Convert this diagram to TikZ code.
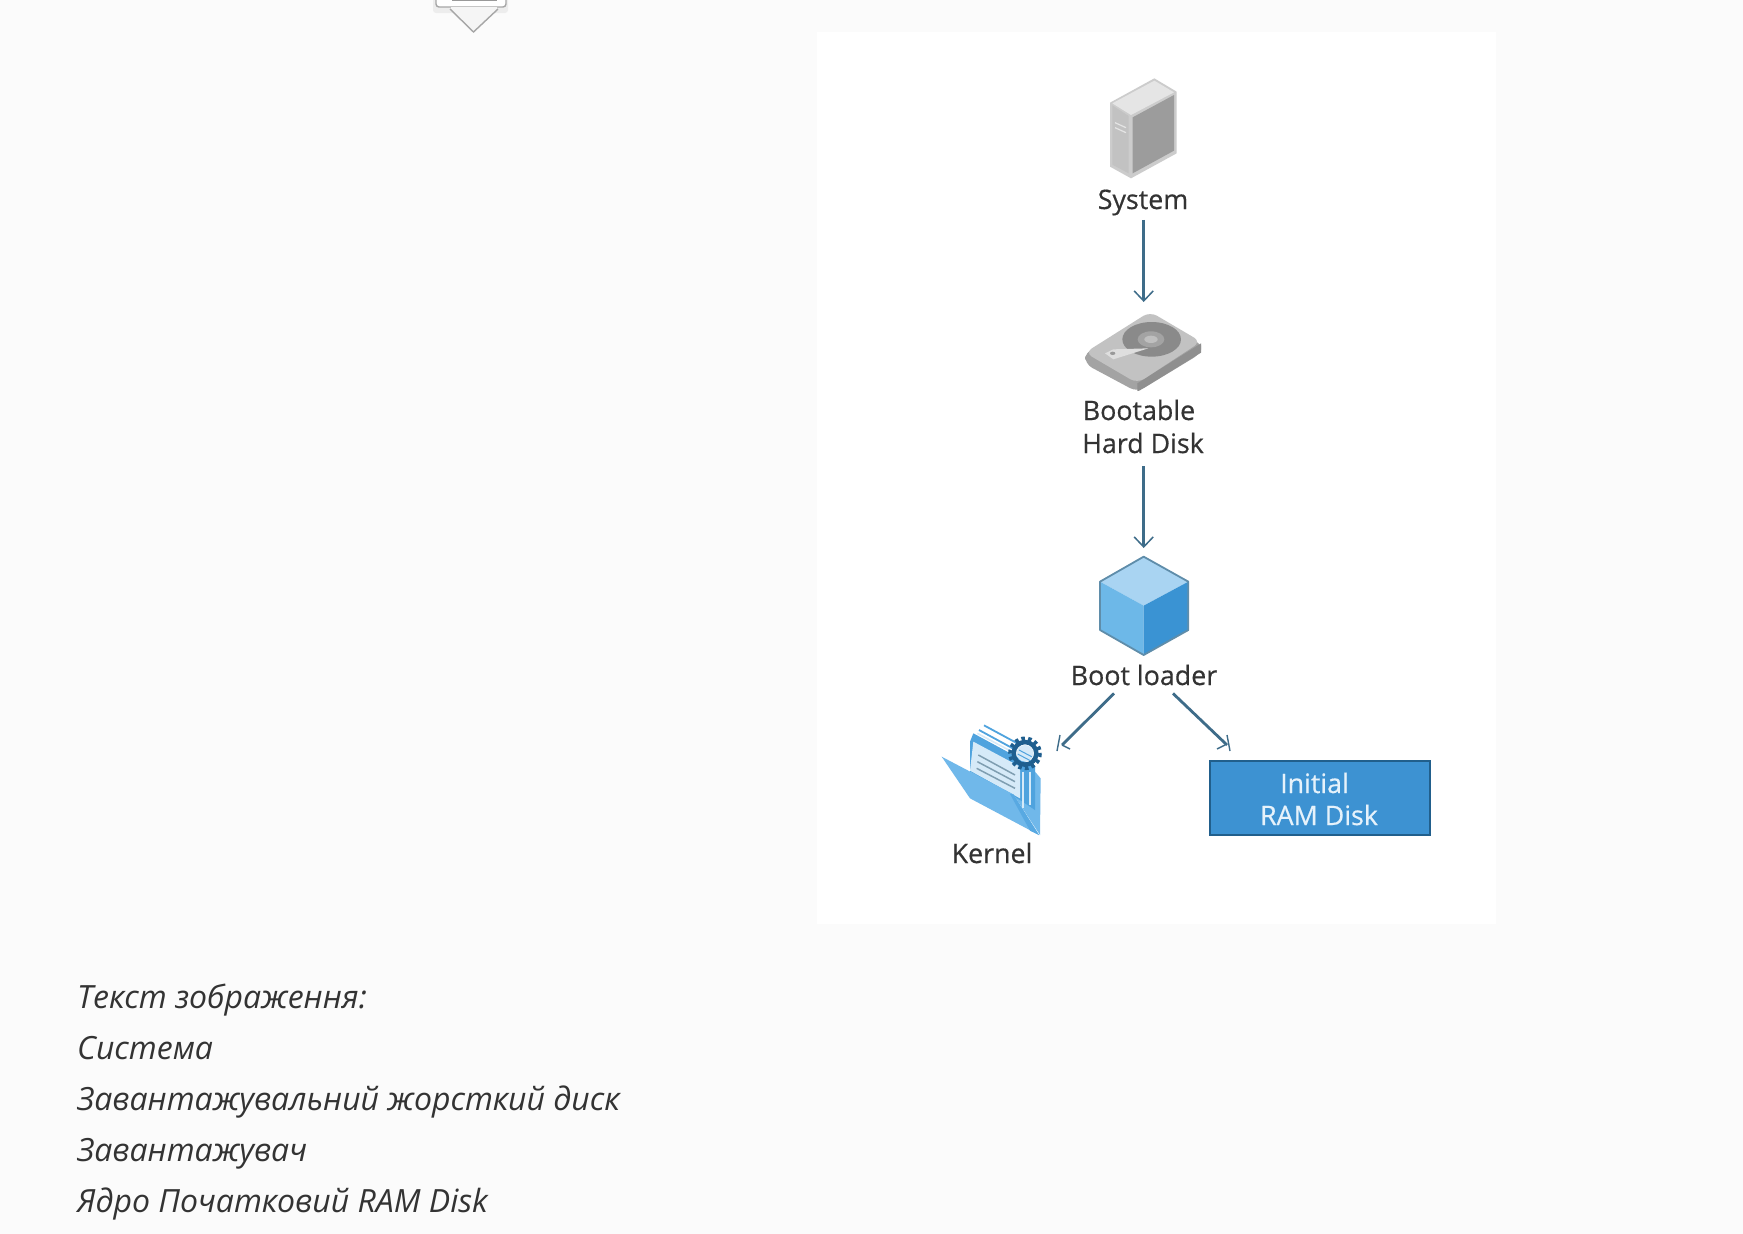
\documentclass[tikz,border=0pt]{standalone}
\usepackage{fontspec}
\setmainfont{Open Sans}
\newfontfamily\lblfont[FakeBold=0.5]{Open Sans}
\usetikzlibrary{arrows.meta,calc}
\definecolor{pagebg}{HTML}{FBFBFB}
\definecolor{inktext}{HTML}{333333}
\definecolor{linkcol}{HTML}{3E6C89}
\definecolor{ramfill}{HTML}{3D92D2}
\definecolor{ramedge}{HTML}{215F8C}
\definecolor{ramtext}{HTML}{E6F2FB}
\definecolor{cubetop}{HTML}{A9D4F2}
\definecolor{cubeleft}{HTML}{6DB8E8}
\definecolor{cuberight}{HTML}{3A93D3}
\definecolor{cubeedge}{HTML}{5F8DAA}
\definecolor{foldlight}{HTML}{70B8EA}
\definecolor{foldmid}{HTML}{58A9E2}
\definecolor{paperblue}{HTML}{D6EAF8}
\definecolor{stripeblue}{HTML}{4FA3DE}
\definecolor{paperline}{HTML}{7F9EB1}
\definecolor{geardark}{HTML}{1F5F8F}
\tikzset{
  iconbox/.style={inner sep=0pt,outer sep=0pt,minimum width=#1,rectangle},
  lbl/.style={font=\lblfont\fontsize{26.8}{33}\selectfont,text=inktext,inner sep=0pt,align=center,anchor=base},
  link/.style={draw=linkcol,line width=2.6pt,-{Straight Barb[length=10pt,width=19pt,line width=1.5pt]}},
  bare/.style={draw=linkcol,line width=2.8pt},
  tick/.style={draw=linkcol,line width=1.4pt},
  note/.style={font=\fontsize{32}{32}\itshape\selectfont,text=inktext,inner sep=0pt,anchor=base west},
  ico/.style={shift={(#1)},scale=1/3}
}
\begin{document}
\begin{tikzpicture}[x=1pt,y=-1pt]
\useasboundingbox (0,0) rectangle (1743,1234);
\fill[pagebg] (0,0) rectangle (1743,1234);
\fill[white] (817,32) rectangle (1496,924);

% cropped callout at the top
\begin{scope}
\clip (0,0) rectangle (1743,40);
\fill[black!7,rounded corners=3pt] (433,-10) rectangle (508,13);
\fill[white,draw=black!35,line width=1.4pt,rounded corners=3pt] (436,-10) rectangle (506,7);
\fill[black!40] (452,0) rectangle (497,1);
\filldraw[fill=black!4,draw=black!35,line width=1.4pt] (450,9) -- (473.5,32) -- (498,9);
\draw[black!4,line width=2pt] (451,8) -- (497,8);
\end{scope}

% server
\begin{scope}[ico={1050,60}]
\fill[black!20] (313,55) -- (380,95) -- (380,280) -- (243,355) -- (180,320) -- (180,128) -- cycle;
\fill[black!10] (313,62) -- (372,97) -- (243,165) -- (187,130) -- cycle;
\fill[black!24] (187,136) -- (236,168) -- (236,340) -- (187,314) -- cycle;
\fill[black!39] (248,172) -- (372,105) -- (372,272) -- (248,340) -- cycle;
\draw[black!10,line width=1.2pt] (195,188) -- (228,203) (195,203) -- (228,218);
\end{scope}
\node[iconbox=1pt,minimum height=1pt] (serverIcon) at (1131,117) {};
\node[lbl] (sysLabel) at (1143,209) {System};

% hard disk
\begin{scope}[ico={1050,300}]
\fill[black!36,rounded corners=8pt] (105,155) -- (300,100) -- (453,125) -- (453,160) -- (262,276) -- (105,192) -- cycle;
\fill[black!44] (262,250) -- (453,130) -- (453,158) -- (268,272) -- (262,273) -- cycle;
\fill[black!24,rounded corners=8pt] (300,35) -- (453,125) -- (262,250) -- (105,158) -- cycle;
\fill[black!46] (305,118) ellipse [x radius=88,y radius=52];
\fill[black!36] (303,118) ellipse [x radius=40,y radius=24];
\fill[black!25] (303,118) ellipse [x radius=20,y radius=11];
\fill[black!13] (165,160) -- (190,148) -- (295,145) -- (190,178) -- cycle;
\fill[black!40] (188,160) ellipse [x radius=8,y radius=5];
\end{scope}
\node[iconbox=10pt,minimum height=90pt] (diskIcon) at (1143.7,347) {};
\node[lbl] (diskLabel) at (1143,453) {\mbox{Bootable\kern8pt}\\Hard Disk};

% cube
\begin{scope}[ico={1050,540},line join=round]
\fill[cubetop] (281,50) -- (415,125) -- (281,197) -- (150,125) -- cycle;
\fill[cubeleft] (150,125) -- (281,197) -- (281,345) -- (150,270) -- cycle;
\fill[cuberight] (281,197) -- (415,125) -- (415,270) -- (281,345) -- cycle;
\draw[cubeedge,line width=1.8pt] (281,50) -- (415,125) -- (415,270) -- (281,345) -- (150,270) -- (150,125) -- cycle;
\end{scope}
\node[iconbox=10pt,minimum height=107pt] (cubeIcon) at (1143.7,601.5) {};
\node[lbl] (bootLabel) at (1144,685) {Boot loader};

% kernel folder
\begin{scope}[ico={920,700},line join=round]
\fill[foldlight] (280,283) -- (345,215) -- (362,235) -- (360,405) -- cycle;
\fill[stripeblue] (150,125) -- (160,100) -- (345,200) -- (345,330) -- (300,300) -- (150,215) -- cycle;
\fill[paperblue] (160,125) -- (300,200) -- (300,295) -- (150,212) -- cycle;
\draw[stripeblue,line width=1.8pt] (192,76) -- (292,130) (177,90) -- (280,146);
\draw[paperblue,line width=1.6pt] (172,100) -- (285,160);
\draw[paperblue,line width=1.8pt] (310,215) -- (310,325) (330,215) -- (330,315);
\draw[paperline,line width=1.5pt] (175,165) -- (285,225) (172,185) -- (285,245) (170,205) -- (285,265);
\fill[foldlight] (65,170) -- (280,283) -- (357,405) -- (150,295) -- cycle;
\fill[foldmid] (280,283) -- (357,405) -- (330,392) -- (270,282) -- cycle;
\draw[geardark,line width=5pt,dash pattern=on 3.4pt off 3pt] (315,160) circle [radius=43];
\draw[geardark,line width=4.5pt] (315,160) circle [radius=34];
\fill[paperblue] (315,160) circle [radius=25];
\draw[stripeblue,line width=1pt] (297,150) -- (335,170) (293,162) -- (331,182);
\end{scope}
\node[iconbox=10pt,minimum height=10pt] (kernelIcon) at (1022,790) {};
\node[lbl] (kernelLabel) at (992,863) {Kernel};

% RAM disk
\node[draw=ramedge,fill=ramfill,line width=2pt,minimum width=220pt,minimum height=74pt,inner sep=0pt] (ramBox) at (1320,798) {};
\node[lbl,text=ramtext,font=\lblfont\fontsize{26.8}{32}\selectfont] (ramText) at (1319,825) {\mbox{Initial\kern9pt}\\RAM Disk};

% connectors
\draw[link] (sysLabel.south)+(0.7,4.3) -- (diskIcon.north);
\draw[link] (diskLabel.south)+(0.7,13) -- (cubeIcon.north);

\coordinate (bootOutL) at ($(bootLabel.south)+(-30,8)$);
\coordinate (bootOutR) at ($(bootLabel.south)+(29,8)$);
\coordinate (kernelIn) at ($(kernelIcon.center)+(40,-45)$);
\coordinate (ramIn) at ($(ramBox.north west)+(18,-15)$);
\draw[bare] (bootOutL) -- (kernelIn);
\draw[bare] (bootOutR) -- (ramIn);
\draw[tick] ($(kernelIn)+(-2,-10)$) -- ($(kernelIn)+(-5,6)$) ($(kernelIn)+(0,0)$) -- ($(kernelIn)+(8,4)$);
\draw[tick] ($(ramIn)+(0,-10)$) -- ($(ramIn)+(3,6)$) ($(ramIn)+(-2,0)$) -- ($(ramIn)+(-10,4)$);

% caption
\node[note] (cap1) at (77,1008) {Текст зображення:};
\node[note] (cap2) at (77,1059) {Система};
\node[note] (cap3) at (77,1110) {Завантажувальний жорсткий диск};
\node[note] (cap4) at (77,1161) {Завантажувач};
\node[note] (cap5) at (77,1212) {Ядро Початковий RAM Disk};
\end{tikzpicture}
\end{document}
